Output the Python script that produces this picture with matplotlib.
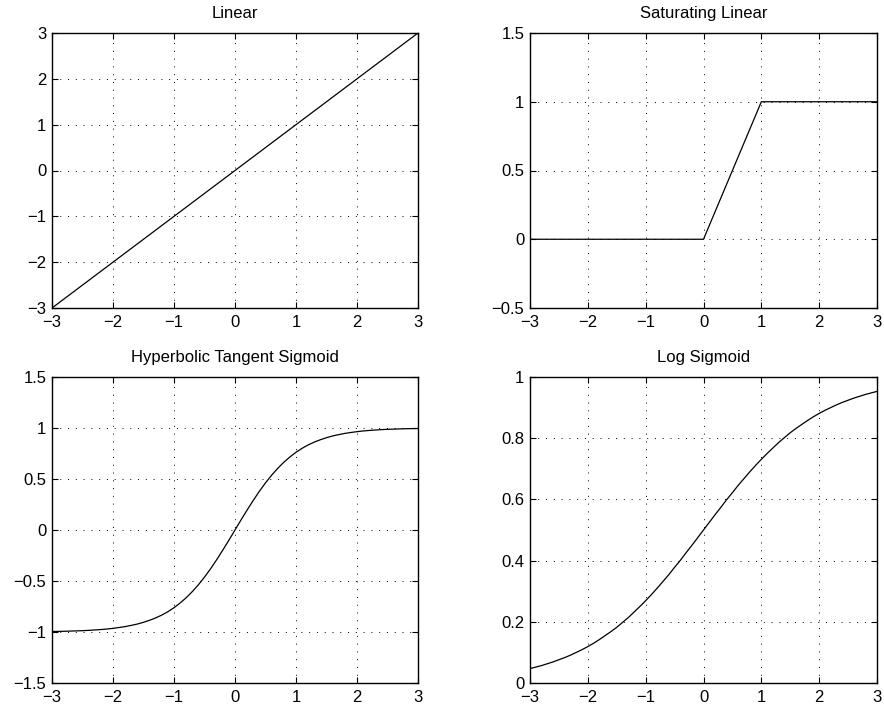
"""Transfer functions, MATLAB style."""

import matplotlib
matplotlib.use("Agg")
import matplotlib.pyplot as plt

# data
lin_x = [-3, 3]
lin_y = [-3, 3]

sat_x = [-3, 0, 1, 3]
sat_y = [0, 0, 1, 1]

curve_x = [-3.0, -2.9, -2.8, -2.7, -2.6, -2.5, -2.4, -2.3, -2.2, -2.1,
           -2.0, -1.9, -1.8, -1.7, -1.6, -1.5, -1.4, -1.3, -1.2, -1.1,
           -1.0, -0.9, -0.8, -0.7, -0.6, -0.5, -0.4, -0.3, -0.2, -0.1,
           0.0, 0.1, 0.2, 0.3, 0.4, 0.5, 0.6, 0.7, 0.8, 0.9,
           1.0, 1.1, 1.2, 1.3, 1.4, 1.5, 1.6, 1.7, 1.8, 1.9,
           2.0, 2.1, 2.2, 2.3, 2.4, 2.5, 2.6, 2.7, 2.8, 2.9, 3.0]
tansig_y = [-0.995, -0.994, -0.993, -0.991, -0.989, -0.987, -0.984, -0.980, -0.976, -0.971,
            -0.964, -0.956, -0.947, -0.935, -0.922, -0.905, -0.885, -0.862, -0.834, -0.801,
            -0.762, -0.716, -0.664, -0.604, -0.537, -0.462, -0.380, -0.291, -0.197, -0.100,
            0.000, 0.100, 0.197, 0.291, 0.380, 0.462, 0.537, 0.604, 0.664, 0.716,
            0.762, 0.801, 0.834, 0.862, 0.885, 0.905, 0.922, 0.935, 0.947, 0.956,
            0.964, 0.971, 0.976, 0.980, 0.984, 0.987, 0.989, 0.991, 0.993, 0.994, 0.995]
logsig_y = [0.047, 0.052, 0.057, 0.063, 0.069, 0.076, 0.083, 0.091, 0.100, 0.109,
            0.119, 0.130, 0.142, 0.155, 0.168, 0.182, 0.198, 0.214, 0.232, 0.250,
            0.269, 0.289, 0.310, 0.332, 0.354, 0.378, 0.401, 0.426, 0.450, 0.475,
            0.500, 0.525, 0.550, 0.574, 0.599, 0.622, 0.646, 0.668, 0.690, 0.711,
            0.731, 0.750, 0.768, 0.786, 0.802, 0.818, 0.832, 0.845, 0.858, 0.870,
            0.881, 0.891, 0.900, 0.909, 0.917, 0.924, 0.931, 0.937, 0.943, 0.948, 0.953]

x_ticks = [-3, -2, -1, 0, 1, 2, 3]
panels = [
    ("Linear", lin_x, lin_y, (-3, 3), [-3, -2, -1, 0, 1, 2, 3]),
    ("Saturating Linear", sat_x, sat_y, (-0.5, 1.5), [-0.5, 0, 0.5, 1, 1.5]),
    ("Hyperbolic Tangent Sigmoid", curve_x, tansig_y, (-1.5, 1.5),
     [-1.5, -1, -0.5, 0, 0.5, 1, 1.5]),
    ("Log Sigmoid", curve_x, logsig_y, (0, 1), [0, 0.2, 0.4, 0.6, 0.8, 1]),
]

plt.rcParams['font.family'] = ['Liberation Sans', 'DejaVu Sans']
plt.rcParams['font.size'] = 12

W, H = 884, 715
fig = plt.figure(figsize=(W / 100, H / 100), dpi=100)

# axes boxes in pixels: left, top, right, bottom
boxes = [(52, 33, 418, 308), (530, 33, 877, 308),
         (52, 377, 418, 683), (530, 377, 877, 683)]


def fmt(v):
    s = "{:g}".format(v)
    return s.replace("-", "\u2212")


for (title, xs, ys, ylim, yticks), (l, t, r, b) in zip(panels, boxes):
    ax = fig.add_axes([l / W, 1 - b / H, (r - l) / W, (b - t) / H])
    ax.plot(xs, ys, color='black', linewidth=0.9)
    ax.set_xlim(-3, 3)
    ax.set_ylim(*ylim)
    ax.set_xticks(x_ticks)
    ax.set_xticklabels([fmt(v) for v in x_ticks])
    ax.set_yticks(yticks)
    ax.set_yticklabels([fmt(v) for v in yticks])
    ax.grid(True, color='black', linestyle=(0, (1, 7)), linewidth=0.7)
    ax.tick_params(direction='in', length=4, width=0.8, top=True, right=True,
                   labelsize=12)
    ax.tick_params(axis='x', pad=5)
    ax.tick_params(axis='y', pad=4)
    for sp in ax.spines.values():
        sp.set_linewidth(1.0)
    ax.set_title(title, fontsize=12, pad=11)

fig.savefig("out.png", dpi=100)
